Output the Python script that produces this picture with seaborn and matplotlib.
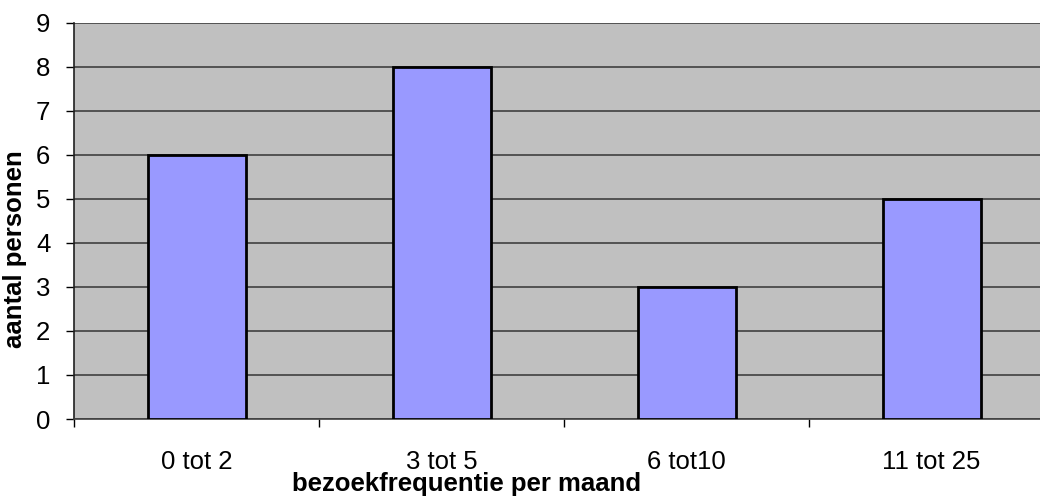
import pandas as pd
import seaborn as sns
import matplotlib.pyplot as plt
from matplotlib.ticker import FixedLocator

# Data
categories = ["0 tot 2", "3 tot 5", "6 tot10", "11 tot 25"]
counts = [6, 8, 3, 5]

df = pd.DataFrame({"freq": categories, "aantal": counts})

sns.set_style("white")
plt.rcParams["font.family"] = ["Liberation Sans", "DejaVu Sans"]
plt.rcParams["text.color"] = "black"
plt.rcParams["axes.labelcolor"] = "black"
plt.rcParams["xtick.color"] = "black"
plt.rcParams["ytick.color"] = "black"

fig = plt.figure(figsize=(10.4, 4.98), dpi=100)
# plot area runs a little past the right edge, as in the reference
ax = fig.add_axes([74 / 1040, 79 / 498, 980 / 1040, 396 / 498])
ax.set_facecolor("#c0c0c0")

sns.barplot(data=df, x="freq", y="aantal", ax=ax, color="#9999ff",
            saturation=1, width=0.4, edgecolor="black", linewidth=2.0,
            zorder=3)

ax.set_xlim(-0.5, 3.5)
ax.set_ylim(0, 9)
ax.set_yticks(range(0, 10))
ax.yaxis.grid(True, color="#404040", linewidth=1.2, zorder=1)
ax.set_axisbelow(True)

for side in ["top", "right"]:
    ax.spines[side].set_visible(False)
ax.spines["left"].set_color("#202020")
ax.spines["left"].set_linewidth(1.2)
ax.spines["bottom"].set_color("#404040")
ax.spines["bottom"].set_linewidth(1.2)

# category separators as small outward ticks
ax.xaxis.set_minor_locator(FixedLocator([-0.5, 0.5, 1.5, 2.5, 3.5]))
ax.tick_params(axis="x", which="major", length=0, pad=22, labelsize=18.5)
ax.tick_params(axis="x", which="minor", length=6, width=1, color="black",
               direction="out", bottom=True)
ax.tick_params(axis="y", length=6, width=1, color="black", direction="out",
               left=True, pad=11, labelsize=18.5)

ax.set_xlabel("bezoekfrequentie per maand", fontsize=18.5, fontweight="bold")
ax.set_ylabel("aantal personen", fontsize=18.5, fontweight="bold")
ax.xaxis.set_label_coords(0.401, -0.134)
ax.yaxis.set_label_coords(-0.048, 0.429)

fig.savefig("out.png", dpi=100)
